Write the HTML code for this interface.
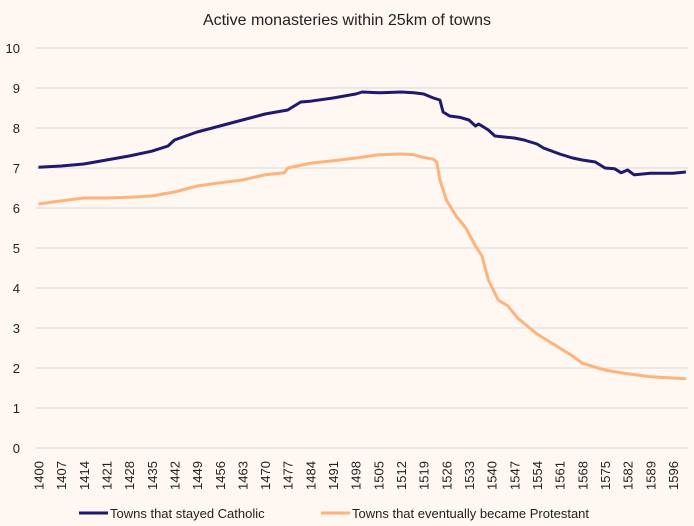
<!DOCTYPE html>
<html><head><meta charset="utf-8"><style>
body{margin:0;background:#fef7f2;}
svg{display:block;font-family:"Liberation Sans",sans-serif;}
</style></head><body>
<svg id="chart" width="694" height="526" xmlns="http://www.w3.org/2000/svg">
<rect width="694" height="526" fill="#fef7f2"/>
<text x="347" y="25" text-anchor="middle" font-size="16" fill="#222">Active monasteries within 25km of towns</text>
<g id="grid"></g><g id="yt"></g><g id="xt"></g><g id="series"></g>
<g>
<line x1="79" y1="513" x2="108" y2="513" stroke="#1f1a6e" stroke-width="3"/>
<text x="110" y="518" font-size="13" fill="#222">Towns that stayed Catholic</text>
<line x1="321" y1="513" x2="350" y2="513" stroke="#ffb27a" stroke-width="3"/>
<text x="352" y="518" font-size="13" fill="#222">Towns that eventually became Protestant</text>
</g>
</svg>
<script>
const catYears=[1400,1407,1414,1421,1428,1435,1440,1442,1449,1456,1463,1470,1477,1481,1484,1491,1498,1500,1505,1512,1516,1519,1522,1524,1525,1527,1530,1533,1535,1536,1539,1541,1547,1550,1554,1556,1561,1565,1568,1572,1575,1578,1580,1582,1584,1589,1596,1600];
const catVals=[7.02,7.05,7.1,7.2,7.3,7.42,7.55,7.7,7.9,8.05,8.2,8.35,8.45,8.65,8.67,8.75,8.85,8.9,8.88,8.9,8.88,8.85,8.75,8.7,8.4,8.3,8.27,8.2,8.05,8.1,7.95,7.8,7.75,7.7,7.6,7.5,7.35,7.25,7.2,7.15,7.0,6.98,6.88,6.95,6.83,6.87,6.87,6.9];
const proYears=[1400,1407,1414,1421,1428,1435,1442,1449,1456,1463,1470,1476,1477,1484,1491,1498,1505,1512,1516,1518,1522,1523,1524,1526,1529,1532,1535,1537,1539,1542,1545,1546,1548,1551,1554,1557,1561,1565,1568,1572,1575,1580,1589,1596,1600];
const proVals=[6.1,6.18,6.25,6.25,6.27,6.3,6.4,6.55,6.63,6.7,6.83,6.88,7.0,7.12,7.18,7.25,7.33,7.35,7.33,7.28,7.22,7.15,6.7,6.2,5.8,5.5,5.05,4.8,4.2,3.7,3.55,3.45,3.25,3.05,2.85,2.7,2.5,2.3,2.12,2.02,1.95,1.88,1.78,1.75,1.73];
const yTicks=[0,1,2,3,4,5,6,7,8,9,10];
const xTicks=[1400,1407,1414,1421,1428,1435,1442,1449,1456,1463,1470,1477,1484,1491,1498,1505,1512,1519,1526,1533,1540,1547,1554,1561,1568,1575,1582,1589,1596];
const NS="http://www.w3.org/2000/svg";
const X=y=>38.5+(y-1400)*3.237;
const Y=v=>448-v*40;
function mk(tag,attrs,parent,txt){const e=document.createElementNS(NS,tag);for(const k in attrs)e.setAttribute(k,attrs[k]);if(txt!==undefined)e.textContent=txt;parent.appendChild(e);return e;}
const grid=document.getElementById('grid'),yt=document.getElementById('yt'),xt=document.getElementById('xt'),ser=document.getElementById('series');
yTicks.forEach(t=>{
 const l=mk('line',{x1:36,x2:688,y1:Y(t),y2:Y(t),stroke:'#d9d9d9','stroke-width':1},grid);
 
 
 const tx=mk('text',{x:20,y:Y(t)+5,'text-anchor':'end','font-size':13,fill:'#222'},yt,String(t));
 
 
});
xTicks.forEach(t=>{
 const tx=mk('text',{transform:`translate(${X(t)+5},${490}) rotate(-90)`,'font-size':13,fill:'#222'},xt,String(t));
 
 
});
function line(years,vals,color,name){
 const d=years.map((y,i)=>(i?'L':'M')+X(y).toFixed(1)+','+Y(vals[i]).toFixed(1)).join('');
 const p=mk('path',{d,fill:'none',stroke:color,'stroke-width':3,'stroke-linejoin':'round'},ser);
 
 
}
line(proYears,proVals,'#ffb27a','line-protestant');
line(catYears,catVals,'#1f1a6e','line-catholic');
</script>
</body></html>
